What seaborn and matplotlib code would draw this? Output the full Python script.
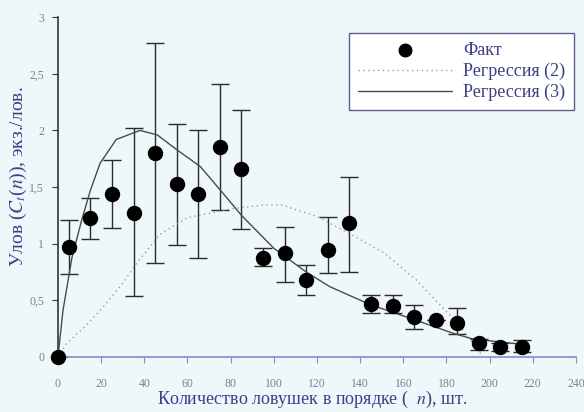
import numpy as np
import pandas as pd
import matplotlib
matplotlib.use("Agg")
import matplotlib.pyplot as plt
import seaborn as sns

# Observed catch (mean per trap order class) with error-bar limits
n_fact = [0, 5, 15, 25, 35, 45, 55, 65, 75, 85, 95, 105, 115, 125, 135,
          145, 155, 165, 175, 185, 195, 205, 215]
c_fact = [0.0, 0.97, 1.23, 1.44, 1.27, 1.80, 1.53, 1.44, 1.85, 1.66, 0.87, 0.92, 0.68,
          0.94, 1.18, 0.47, 0.45, 0.35, 0.33, 0.30, 0.12, 0.09, 0.09]
c_upper = [0.0, 1.21, 1.40, 1.74, 2.02, 2.77, 2.06, 2.00, 2.41, 2.18, 0.96, 1.15, 0.81,
           1.24, 1.59, 0.55, 0.55, 0.46, 0.33, 0.43, 0.16, 0.12, 0.15]
c_lower = [0.0, 0.73, 1.04, 1.14, 0.54, 0.83, 0.99, 0.87, 1.30, 1.13, 0.80, 0.66, 0.55,
           0.74, 0.75, 0.39, 0.39, 0.25, 0.33, 0.20, 0.06, 0.05, 0.04]

# Regression (2) - dotted curve
n_reg2 = [0, 4, 12, 20, 30, 35, 47, 60, 81, 95, 104, 120, 135, 151, 166, 178, 185, 197]
c_reg2 = [0.0, 0.12, 0.26, 0.42, 0.65, 0.79, 1.08, 1.23, 1.31, 1.34, 1.34, 1.24,
          1.09, 0.92, 0.68, 0.44, 0.30, 0.0]

# Regression (3) - solid curve
n_reg3 = [0, 2.3, 6.5, 11, 15, 19.5, 27, 38, 46, 55, 66, 78, 85, 100, 115, 126,
          145, 165, 183, 192, 211, 215]
c_reg3 = [0.0, 0.41, 0.88, 1.21, 1.47, 1.71, 1.92, 2.0, 1.96, 1.83, 1.68, 1.41, 1.25,
          0.96, 0.75, 0.62, 0.46, 0.33, 0.21, 0.16, 0.12, 0.11]

df_fact = pd.DataFrame({"n": n_fact, "c": c_fact})
df_reg2 = pd.DataFrame({"n": n_reg2, "c": c_reg2})
df_reg3 = pd.DataFrame({"n": n_reg3, "c": c_reg3})

sns.set_style("ticks")
plt.rcParams['font.family'] = ['Liberation Serif', 'DejaVu Serif']
plt.rcParams['mathtext.fontset'] = 'stix'

AXIS_COLOR = '#7f8fc4'
TEXT_COLOR = '#3b3f86'
TICK_COLOR = '#7a8290'

fig = plt.figure(figsize=(5.84, 4.12), dpi=100, facecolor='#eef8fa')
ax = fig.add_axes([0.0993, 0.1335, 0.887, 0.825])
ax.set_facecolor('none')

# error bars
yerr = [np.array(c_fact) - np.array(c_lower), np.array(c_upper) - np.array(c_fact)]
ax.errorbar(n_fact, c_fact, yerr=yerr, fmt='none', ecolor='#2b2b2b',
            elinewidth=1.0, capsize=6.5, capthick=1.0, zorder=2)

sns.lineplot(data=df_reg2, x='n', y='c', ax=ax, color='#9a9a9a', linewidth=1.0,
             linestyle=(0, (1, 2.5)), label='Регрессия (2)', zorder=3)
sns.lineplot(data=df_reg3, x='n', y='c', ax=ax, color='#4a4a4a', linewidth=1.0,
             label='Регрессия (3)', zorder=3)
sns.scatterplot(data=df_fact, x='n', y='c', ax=ax, color='black', s=105,
                edgecolor='black', label='Факт', zorder=4, clip_on=False)

ax.set_xlim(0, 240)
ax.set_ylim(0, 3)
ax.set_xticks(np.arange(0, 241, 20))
ax.set_yticks([0, 0.5, 1, 1.5, 2, 2.5, 3])
ax.set_yticklabels(['0', '0,5', '1', '1,5', '2', '2,5', '3'])

for side in ['top', 'right']:
    ax.spines[side].set_visible(False)
ax.spines['left'].set_color('#333333')
ax.spines['bottom'].set_color(AXIS_COLOR)
ax.spines['left'].set_linewidth(1.2)
ax.spines['bottom'].set_linewidth(1.2)
ax.tick_params(axis='x', colors=AXIS_COLOR, labelcolor=TICK_COLOR, labelsize=8.5,
               length=4, pad=11)
ax.tick_params(axis='y', colors='#333333', labelcolor=TICK_COLOR, labelsize=8.5,
               length=4, pad=6)

ax.set_xlabel('Количество ловушек в порядке (  $n$), шт.', fontsize=13,
              color=TEXT_COLOR, va='top')
ax.xaxis.set_label_coords(0.49, -0.095)
ax.set_ylabel('Улов ($C_t$($n$)), экз./лов.', fontsize=14, color=TEXT_COLOR,
              va='center')
ax.yaxis.set_label_coords(-0.077, 0.53)

handles, labels = ax.get_legend_handles_labels()
order = [labels.index('Факт'), labels.index('Регрессия (2)'), labels.index('Регрессия (3)')]
leg = ax.legend([handles[i] for i in order], [labels[i] for i in order],
                loc='upper left', bbox_to_anchor=(0.562, 0.953), frameon=True,
                fancybox=False, edgecolor='#5a5f8a', facecolor='white',
                framealpha=1, fontsize=13, handlelength=5.2, borderpad=0.5,
                labelspacing=0.2, handletextpad=0.6, markerscale=0.9,
                borderaxespad=0)
leg.get_frame().set_linewidth(1.0)
for t in leg.get_texts():
    t.set_color(TEXT_COLOR)

fig.savefig('out.png', dpi=100, facecolor=fig.get_facecolor())
